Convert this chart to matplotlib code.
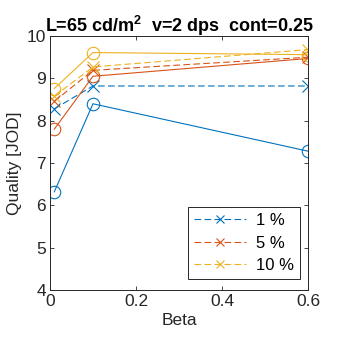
import matplotlib
matplotlib.use('Agg')
import matplotlib.pyplot as plt

plt.rcParams['font.family'] = ['Liberation Sans', 'DejaVu Sans']
plt.rcParams['mathtext.fontset'] = 'custom'
plt.rcParams['mathtext.rm'] = 'Liberation Sans'
plt.rcParams['mathtext.bf'] = 'Liberation Sans:bold'

beta = [0.01, 0.1, 0.6]
labels = ['1 %', '5 %', '10 %']
colors = ['#0072BD', '#D95319', '#EDB120']

# solid lines with circles
quality_o = [
    [6.32, 8.40, 7.28],
    [7.80, 9.05, 9.47],
    [8.76, 9.61, 9.56],
]
# dashed lines with crosses
quality_x = [
    [8.28, 8.82, 8.82],
    [8.46, 9.19, 9.50],
    [8.58, 9.27, 9.68],
]

fig = plt.figure(figsize=(3.4, 3.4), dpi=100)
ax = fig.add_axes([0.147, 0.147, 0.759, 0.747])

handles = []
for i in range(3):
    ax.plot(beta, quality_o[i], '-o', color=colors[i], lw=0.8,
            markersize=9, markerfacecolor='none', markeredgewidth=0.8)
    h, = ax.plot(beta, quality_x[i], '--x', color=colors[i], lw=0.8,
                 markersize=8, markeredgewidth=0.8, dashes=(6, 3))
    handles.append(h)

ax.set_xlim(0, 0.6)
ax.set_ylim(4, 10)
ax.set_xticks([0, 0.2, 0.4, 0.6])
ax.set_xticklabels(['0', '0.2', '0.4', '0.6'])
ax.set_yticks([4, 5, 6, 7, 8, 9, 10])
ax.tick_params(direction='in', top=True, right=True, labelsize=12.5,
               length=3, width=0.6, colors='#262626', pad=3)
for s in ax.spines.values():
    s.set_linewidth(0.7)
    s.set_color('#262626')

ax.set_xlabel('Beta', fontsize=12.5, color='#262626', labelpad=3)
ax.set_ylabel('Quality [JOD]', fontsize=12.5, color='#262626', labelpad=3)
ax.set_title(r'L=65 cd/m$^{\mathbf{2}}$  v=2 dps  cont=0.25',
             fontsize=13, fontweight='bold', pad=3)

leg = ax.legend(handles, labels, loc='lower right', fontsize=12,
                fancybox=False, edgecolor='#262626', framealpha=1,
                handlelength=3.1, handletextpad=0.6, borderpad=0.35,
                labelspacing=0.45, markerscale=0.8, borderaxespad=0,
                bbox_to_anchor=(0.968, 0.043))
leg.get_frame().set_linewidth(0.7)

fig.savefig('out.png', dpi=100)
